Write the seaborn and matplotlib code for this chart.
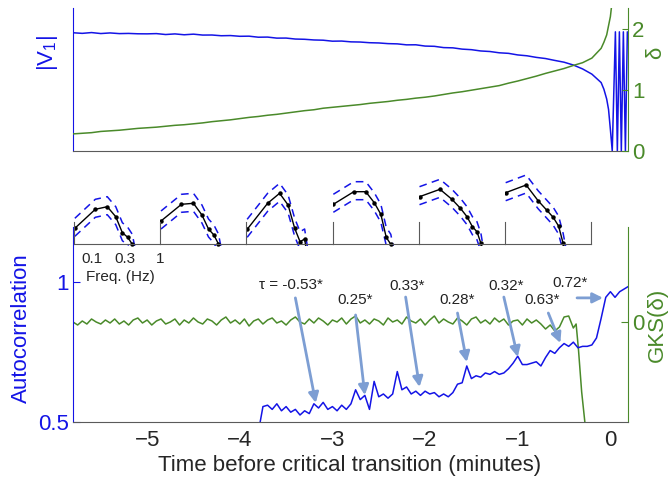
import numpy as np
import matplotlib
matplotlib.use("Agg")
import seaborn as sns
from matplotlib import pyplot as plt
from matplotlib.ticker import NullLocator

# %% data
# top panel: |V1| (blue) and delta (green) against time before transition (min)
v1_time = list(np.round(np.arange(-5.8, -0.05, 0.1), 2)) + [
    -0.07, -0.04, -0.02, 0.0, 0.02, 0.054, 0.075, 0.097, 0.118, 0.14, 0.162, 0.183]
v1_vals = [1.935, 1.925, 1.938, 1.922, 1.932, 1.921, 1.924, 1.918, 1.917, 1.921,
           1.906, 1.916, 1.902, 1.912, 1.897, 1.898, 1.886, 1.889, 1.877, 1.879,
           1.862, 1.864, 1.847, 1.848, 1.832, 1.828, 1.817, 1.813, 1.797, 1.799,
           1.786, 1.783, 1.772, 1.768, 1.757, 1.753, 1.737, 1.738, 1.717, 1.713,
           1.692, 1.688, 1.667, 1.658, 1.637, 1.628, 1.607, 1.598, 1.572, 1.558,
           1.532, 1.513, 1.482, 1.453, 1.407, 1.343, 1.258, 1.12,
           1.01, 0.85, 0.68, 0.35, 0.0, 1.95, 0.0, 1.95, 0.0, 1.95, 0.0, 1.95]

delta_time = list(np.round(np.arange(-5.8, -0.05, 0.1), 2)) + [-0.07, -0.04, -0.02, 0.0, 0.012]
delta_vals = [0.28, 0.29, 0.30, 0.32, 0.33, 0.34, 0.355, 0.37, 0.38, 0.39,
              0.405, 0.42, 0.43, 0.445, 0.46, 0.48, 0.495, 0.51, 0.53, 0.55,
              0.565, 0.585, 0.60, 0.62, 0.64, 0.66, 0.675, 0.70, 0.715, 0.73,
              0.745, 0.76, 0.78, 0.795, 0.81, 0.83, 0.845, 0.865, 0.88, 0.90,
              0.925, 0.95, 0.97, 0.995, 1.02, 1.045, 1.07, 1.11, 1.145, 1.185,
              1.225, 1.27, 1.31, 1.35, 1.40, 1.445, 1.52, 1.68,
              1.78, 1.90, 2.05, 2.20, 2.36]

# bottom panel: lag-1 autocorrelation (blue)
ac_time = [-3.78] + list(np.round(np.linspace(-3.75, 0.2, 80), 2))
ac_vals = [0.50,
           0.555, 0.56, 0.545, 0.565, 0.54, 0.555, 0.535, 0.545, 0.525, 0.54,
           0.53, 0.565, 0.55, 0.57, 0.545, 0.555, 0.54, 0.56, 0.545, 0.565,
           0.615, 0.58, 0.595, 0.545, 0.645, 0.59, 0.60, 0.585, 0.60, 0.68,
           0.615, 0.625, 0.60, 0.61, 0.595, 0.61, 0.60, 0.605, 0.59, 0.60,
           0.59, 0.605, 0.635, 0.64, 0.70, 0.655, 0.665, 0.66, 0.675, 0.67,
           0.68, 0.67, 0.675, 0.69, 0.71, 0.735, 0.705, 0.705, 0.71, 0.715,
           0.70, 0.73, 0.755, 0.745, 0.765, 0.78, 0.77, 0.785, 0.765, 0.77,
           0.77, 0.775, 0.80, 0.87, 0.945, 0.965, 0.945, 0.965, 0.975, 0.985]

# bottom panel: GKS(delta) (green)
gks_time = list(np.round(np.linspace(-5.8, -0.4, 109), 2)) + [-0.37, -0.345, -0.31, -0.27]
gks_vals = [0.00, -0.03, 0.01, -0.02, 0.03, 0.00, -0.02, 0.02, -0.01, 0.03,
            -0.02, 0.01, -0.03, 0.02, 0.04, -0.01, 0.02, -0.03, 0.01, 0.03,
            -0.02, 0.00, 0.03, -0.03, 0.02, -0.01, 0.04, 0.00, -0.02, 0.03,
            0.01, -0.03, 0.02, 0.05, -0.01, 0.02, -0.02, 0.03, -0.04, 0.01,
            0.03, -0.02, 0.02, 0.04, -0.01, 0.01, -0.03, 0.02, 0.05, 0.00,
            -0.02, 0.03, -0.01, 0.04, 0.01, -0.03, 0.02, 0.00, 0.04, -0.02,
            0.03, 0.06, -0.01, 0.02, -0.02, 0.03, 0.01, -0.03, 0.04, 0.00,
            0.02, -0.02, 0.05, 0.01, -0.01, 0.03, -0.03, 0.02, 0.06, -0.01,
            0.03, 0.00, -0.02, 0.04, 0.01, -0.03, 0.03, 0.05, -0.01, 0.02,
            -0.02, 0.04, 0.00, 0.03, -0.03, 0.01,
            0.02, -0.03, 0.03, -0.01, 0.02, -0.02, -0.07, -0.03, -0.09, -0.05,
            0.05, 0.06, -0.06,
            -0.02, -0.27, -0.70, -1.05]

# inset spectra: power at k/18 Hz for six windows
spec_freq = [k / 18 for k in range(1, 10)]
spec_power = [
    [1.57, 3.47, 3.73, 2.73, 1.13, 0.67, -0.03, -2.0],
    [2.30, 3.97, 4.07, 2.90, 1.50, 0.90, 0.00, -2.0],
    [1.47, 4.07, 5.07, 3.90, 1.57, 0.23, 0.50, -2.0],
    [3.97, 5.23, 5.23, 4.13, 2.97, 0.67, -0.03, -2.0],
    [4.73, 5.47, 4.47, 3.57, 2.73, 1.73, 1.23, 0.07, -2.0],
    [5.13, 5.90, 4.33, 3.40, 2.67, 1.80, 0.07, -2.0],
]

# Kendall tau annotations
ann_labels = ["τ = -0.53*", "0.25*", "0.33*", "0.28*", "0.32*", "0.63*", "0.72*"]
ann_text_t = [-3.45, -2.75, -2.19, -1.65, -1.13, -0.74, -0.43]
ann_text_y = [0.989, 0.936, 0.986, 0.936, 0.986, 0.936, 0.996]
ann_tail_t = [-3.40, -2.75, -2.21, -1.65, -1.15, -0.67, -0.36]
ann_tail_y = [0.943, 0.882, 0.946, 0.889, 0.946, 0.889, 0.943]
ann_tip_t = [-3.18, -2.65, -2.06, -1.55, -1.00, -0.54, -0.08]
ann_tip_y = [0.568, 0.596, 0.625, 0.714, 0.732, 0.782, 0.943]

# %% style
BLUE = "#1414e6"
GREEN = "#4a8a2a"
ARROW = "#7d9ed3"
GRAY = "#5a5a5a"

sns.set_style("white")
plt.rcParams["font.family"] = ["Liberation Sans", "DejaVu Sans"]
plt.rcParams["mathtext.default"] = "regular"

W, H = 668, 478
BIG = 16


def box(x0, y0, x1, y1):
    # pixel box (top-left origin) -> figure fractions
    return [x0 / W, 1 - y1 / H, (x1 - x0) / W, (y1 - y0) / H]


fig = plt.figure(figsize=(W / 100, H / 100), dpi=100)
XLIM = (-5.8, 0.19)

# %% top panel
ax_top = fig.add_axes(box(73, 8, 628, 151))
sns.lineplot(x=v1_time, y=v1_vals, ax=ax_top, color=BLUE, lw=1.1,
             sort=False, estimator=None)
ax_top.set_xlim(*XLIM)
ax_top.set_ylim(0, 2.34)
ax_top.set_xticks([])
ax_top.set_yticks([])
for s in ["top", "right"]:
    ax_top.spines[s].set_visible(False)
ax_top.spines["left"].set_color(BLUE)
ax_top.spines["bottom"].set_color(GRAY)

ax_top_r = ax_top.twinx()
sns.lineplot(x=delta_time, y=delta_vals, ax=ax_top_r, color=GREEN, lw=1.1,
             sort=False, estimator=None)
ax_top_r.set_xlim(*XLIM)
ax_top_r.set_ylim(0, 2.34)
ax_top_r.set_yticks([0, 1, 2])
ax_top_r.tick_params(axis="y", direction="in", length=4, colors=GREEN,
                     labelsize=BIG, pad=3)
for s in ["top", "left", "bottom"]:
    ax_top_r.spines[s].set_visible(False)
ax_top_r.spines["right"].set_color(GREEN)
ax_top_r.set_ylabel("")

# %% bottom panel
ax_ac = fig.add_axes(box(73, 227, 628, 422))
ax_ac.set_zorder(2)
ax_ac.patch.set_visible(False)
sns.lineplot(x=ac_time, y=ac_vals, ax=ax_ac, color=BLUE, lw=1.1,
             sort=False, estimator=None)
ax_ac.set_xlim(*XLIM)
ax_ac.set_ylim(0.5, 1.196)
ax_ac.set_xticks([-5, -4, -3, -2, -1, 0])
ax_ac.set_yticks([0.5, 1], labels=["0.5", "1"])
ax_ac.tick_params(axis="x", direction="in", length=5, color=GRAY,
                  labelsize=BIG, pad=6)
ax_ac.tick_params(axis="y", direction="in", length=5, colors=BLUE,
                  labelsize=BIG, pad=3)
for s in ["top", "right"]:
    ax_ac.spines[s].set_visible(False)
ax_ac.spines["left"].set_color(BLUE)
ax_ac.spines["bottom"].set_color(GRAY)
ax_ac.set_xlabel("")
ax_ac.set_ylabel("")

ax_gks = ax_ac.twinx()
ax_gks.set_zorder(1)
sns.lineplot(x=gks_time, y=gks_vals, ax=ax_gks, color=GREEN, lw=1.1,
             sort=False, estimator=None)
ax_gks.set_xlim(*XLIM)
ax_gks.set_ylim(-1.0, 0.95)
ax_gks.set_yticks([0])
ax_gks.tick_params(axis="y", direction="in", length=5, colors=GREEN,
                   labelsize=BIG, pad=3)
for s in ["top", "left", "bottom"]:
    ax_gks.spines[s].set_visible(False)
ax_gks.spines["right"].set_color(GREEN)
ax_gks.set_ylabel("")

# arrows and tau labels
for lab, tx, ty, at, ay, pt, py in zip(ann_labels, ann_text_t, ann_text_y,
                                        ann_tail_t, ann_tail_y, ann_tip_t, ann_tip_y):
    ax_ac.text(tx, ty, lab, ha="center", va="center", fontsize=11, color="#222222")
    ax_ac.annotate("", xy=(pt, py), xytext=(at, ay),
                   arrowprops=dict(arrowstyle="-|>,head_length=0.6,head_width=0.3",
                                   color=ARROW, lw=2.0, mutation_scale=10,
                                   shrinkA=0, shrinkB=0))

# %% inset spectra
pw = (591 - 74) / 6
for i, pwr in enumerate(spec_power):
    x0 = 74 + pw * i
    ax_in = fig.add_axes(box(x0, 174, x0 + pw, 246))
    ax_in.set_zorder(3)
    ax_in.patch.set_visible(False)
    f = spec_freq[:len(pwr)]
    hi = [p + 1.0 for p in pwr]
    lo = [p - 0.8 for p in pwr]
    sns.lineplot(x=f, y=hi, ax=ax_in, color=BLUE, lw=1.1, linestyle=(0, (5, 3.5)),
                 sort=False, estimator=None)
    sns.lineplot(x=f, y=lo, ax=ax_in, color=BLUE, lw=1.1, linestyle=(0, (5, 3.5)),
                 sort=False, estimator=None)
    sns.lineplot(x=f, y=pwr, ax=ax_in, color="black", lw=1.0, marker="o",
                 markersize=3.2, markeredgewidth=0, sort=False, estimator=None)
    ax_in.set_xscale("log")
    ax_in.set_xlim(0.054, 1.0)
    ax_in.set_ylim(-0.2, 7.0)
    ax_in.spines["bottom"].set_position(("data", 0))
    ax_in.spines["bottom"].set_color(GRAY)
    ax_in.spines["left"].set_bounds(0, 2.2)
    ax_in.spines["left"].set_color(GRAY)
    ax_in.spines["top"].set_visible(False)
    if i == len(spec_power) - 1:
        ax_in.spines["right"].set_bounds(0, 2.2)
        ax_in.spines["right"].set_color(GRAY)
    else:
        ax_in.spines["right"].set_visible(False)
    ax_in.set_yticks([])
    ax_in.xaxis.set_minor_locator(NullLocator())
    if i == 0:
        ax_in.set_xticks([0.1, 0.3, 1], labels=["0.1", "0.3", "1"])
        ax_in.tick_params(axis="x", length=0, labelsize=11, pad=6)
        ax_in.text(0.14, -0.33, "Freq. (Hz)", transform=ax_in.transAxes,
                   fontsize=11, ha="left", va="top")
    else:
        ax_in.set_xticks([])
    ax_in.set_xlabel("")
    ax_in.set_ylabel("")

# %% axis titles
fig.text(48 / W, 1 - 53 / H, "|V$_1$|", rotation=90, ha="center", va="center",
         color=BLUE, fontsize=BIG)
fig.text(656 / W, 1 - 53 / H, "δ", rotation=90, ha="center", va="center",
         color=GREEN, fontsize=BIG)
fig.text(21 / W, 1 - 328 / H, "Autocorrelation", rotation=90, ha="center",
         va="center", color=BLUE, fontsize=BIG)
fig.text(657 / W, 1 - 325 / H, "GKS(δ)", rotation=90, ha="center", va="center",
         color=GREEN, fontsize=BIG)
fig.text(350 / W, 1 - 465 / H, "Time before critical transition (minutes)",
         ha="center", va="center", fontsize=BIG)

fig.savefig("out.png", dpi=100)
